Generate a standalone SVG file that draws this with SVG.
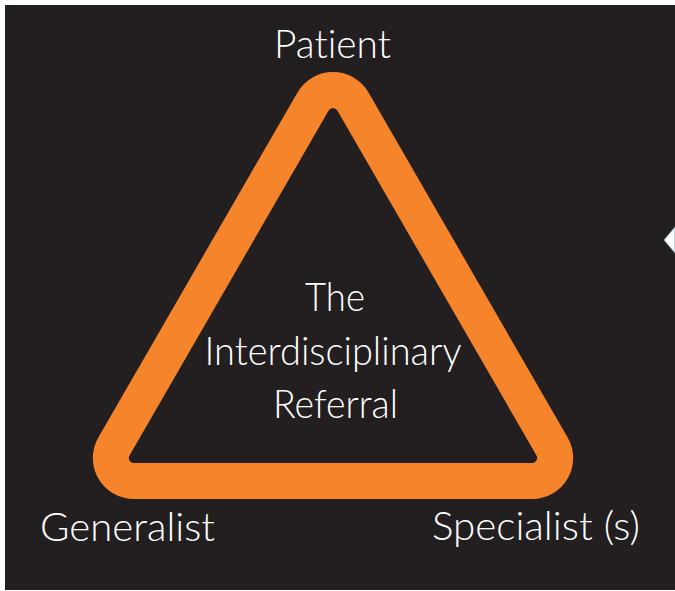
<svg xmlns="http://www.w3.org/2000/svg" width="675" height="591" viewBox="0 0 675 591">
  <style>
    .label { font-family: Lato, "Liberation Sans", sans-serif; font-weight: 300; font-variant-ligatures: none; font-size: 40px; fill: #ffffff; text-anchor: middle; }
    .ring { fill: none; stroke: #f5842a; stroke-width: 36; stroke-linejoin: round; }
  </style>
  <!-- page background -->
  <rect x="0" y="0" width="675" height="591" fill="#ffffff"/>
  <rect x="5" y="5" width="670" height="585" fill="#231f20"/>

  <!-- small white pointer on the right edge -->
  <polygon points="675,227 664,240 675,253" fill="#ffffff" stroke="#8fa3b5" stroke-width="1"/>

  <!-- connectors: the rounded triangle joining the three parties -->
  <g id="connectors">
    <path class="ring" d="M 313.08 101.5 A 23 23 0 0 1 352.92 101.5 L 552.08 446.5 A 23 23 0 0 1 532.16 481 L 133.84 481 A 23 23 0 0 1 113.92 446.5 Z"/>
  </g>

  <g id="patient">
    <text class="label" x="332.5" y="58" textLength="117" lengthAdjust="spacingAndGlyphs">Patient</text>
  </g>
  <g id="generalist">
    <text class="label" x="127.5" y="541" font-size="42" textLength="175" lengthAdjust="spacingAndGlyphs">Generalist</text>
  </g>
  <g id="specialist">
    <text class="label" x="536" y="540" font-size="42" textLength="208" lengthAdjust="spacingAndGlyphs">Specialist (s)</text>
  </g>
  <g id="referral">
    <text class="label" x="335" y="311" font-size="38" textLength="60" lengthAdjust="spacingAndGlyphs">The</text>
    <text class="label" x="333" y="365" font-size="38" textLength="257" lengthAdjust="spacingAndGlyphs">Interdisciplinary</text>
    <text class="label" x="335.5" y="418" font-size="38" textLength="125" lengthAdjust="spacingAndGlyphs">Referral</text>
  </g>
</svg>
